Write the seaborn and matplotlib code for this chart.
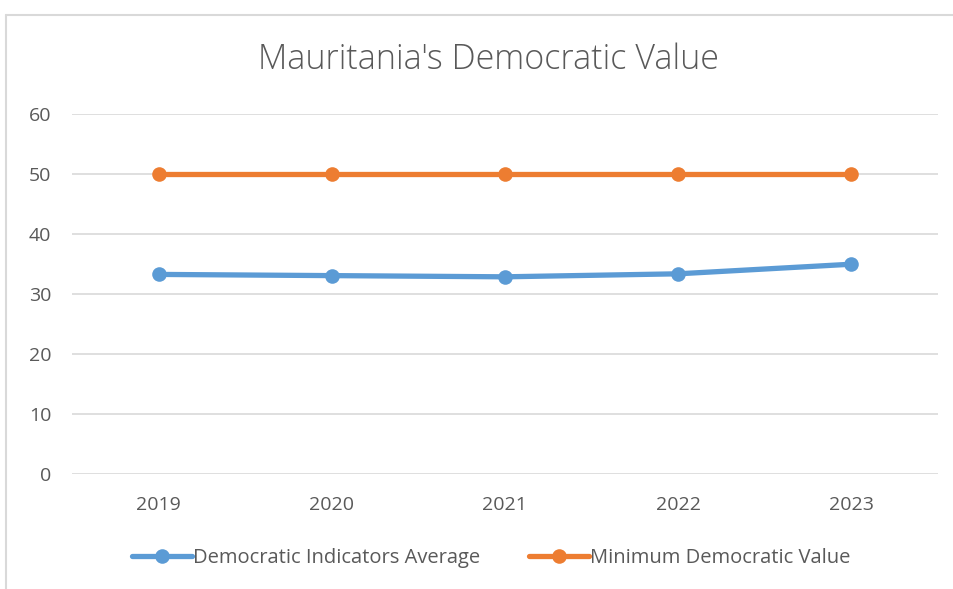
import pandas as pd
import matplotlib.pyplot as plt
import seaborn as sns

# === Data ===
years = [2019, 2020, 2021, 2022, 2023]
dem_avg = [33.3, 33.1, 32.9, 33.4, 35.0]
min_dem = [50, 50, 50, 50, 50]
series_names = ["Democratic Indicators Average", "Minimum Democratic Value"]

df = pd.DataFrame({
    "Year": years * 2,
    "Value": dem_avg + min_dem,
    "Series": [series_names[0]] * len(years) + [series_names[1]] * len(years),
})

sns.set_style("white")
plt.rcParams["font.family"] = ["Open Sans", "DejaVu Sans"]

grey = "#595959"
palette = {series_names[0]: "#5B9BD5", series_names[1]: "#ED7D31"}

fig = plt.figure(figsize=(9.54, 5.89), dpi=100)
ax = fig.add_axes([0.0755, 0.195, 0.9075, 0.611])

sns.lineplot(data=df, x="Year", y="Value", hue="Series", palette=palette,
             style="Series", markers=["o", "o"], dashes=False,
             linewidth=3.8, markersize=10.5, markeredgewidth=0, ax=ax, legend=False)

ax.set_xlim(2018.5, 2023.5)
ax.set_ylim(0, 60)
ax.set_yticks(range(0, 61, 10))
ax.set_xticks(years)
ax.yaxis.grid(True, color="#D9D9D9", linewidth=1.2)
ax.set_axisbelow(True)
for s in ["top", "right", "left", "bottom"]:
    ax.spines[s].set_visible(False)
ax.tick_params(axis="both", length=0, labelsize=14, labelcolor=grey)
ax.tick_params(axis="y", pad=15)
ax.tick_params(axis="x", pad=16)
ax.set_xlabel("")
ax.set_ylabel("")

fig.text(0.512, 0.898, "Mauritania's Democratic Value", ha="center", va="center",
         fontsize=24.5, color=grey, fontweight="light")

# legend at the bottom
handles = [plt.Line2D([], [], color=palette[n], linewidth=3.8, marker="o",
                      markersize=10.5, markeredgewidth=0) for n in series_names]
fig.legend(handles, series_names, loc="center", bbox_to_anchor=(0.515, 0.053),
           ncol=2, frameon=False, fontsize=14.5, labelcolor=grey,
           handlelength=3.0, handletextpad=0.05, columnspacing=2.4, markerfirst=True)

# chart border (partial, as in the screenshot)
fig.add_artist(plt.Line2D([0.006, 1.0], [1 - 15 / 589, 1 - 15 / 589],
                          color="#D9D9D9", linewidth=1.5, transform=fig.transFigure))
fig.add_artist(plt.Line2D([0.006, 0.006], [0, 1 - 15 / 589],
                          color="#D9D9D9", linewidth=1.5, transform=fig.transFigure))

fig.savefig("out.png", dpi=100)
